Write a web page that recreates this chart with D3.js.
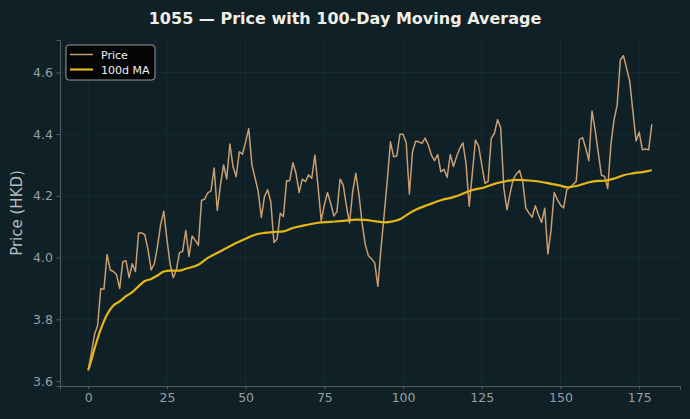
<!DOCTYPE html>
<html>
<head>
<meta charset="utf-8">
<script src="https://cdn.jsdelivr.net/npm/d3@7"></script>
<style>
  html, body { margin: 0; padding: 0; background: #0f2027; }
  #chart-container { width: 690px; height: 419px; }
  text { font-family: "DejaVu Sans", sans-serif; }
</style>
</head>
<body>
<div id="chart-container"></div>
<script>
// Price data, one value per day (index 0..179)
const prices = [
  3.635, 3.69, 3.75, 3.78, 3.90, 3.897, 4.01, 3.96, 3.955, 3.945,
  3.90, 3.987, 3.99, 3.935, 3.98, 3.955, 4.08, 4.08, 4.074, 4.026,
  3.96, 3.98, 4.035, 4.106, 4.15, 4.06, 3.98, 3.935, 3.96, 4.016,
  4.02, 4.088, 4.004, 4.07, 4.056, 4.04, 4.185, 4.19, 4.21, 4.216,
  4.29, 4.153, 4.235, 4.30, 4.255, 4.368, 4.295, 4.262, 4.343, 4.335,
  4.375, 4.418, 4.30, 4.258, 4.214, 4.13, 4.198, 4.22, 4.18, 4.049,
  4.06, 4.144, 4.133, 4.249, 4.249, 4.307, 4.273, 4.211, 4.254, 4.246,
  4.268, 4.257, 4.332, 4.230, 4.120, 4.171, 4.211, 4.176, 4.135, 4.149,
  4.254, 4.235, 4.168, 4.112, 4.214, 4.273, 4.203, 4.112, 4.042, 4.006,
  3.996, 3.983, 3.907, 4.031, 4.139, 4.252, 4.375, 4.327, 4.329, 4.40,
  4.40, 4.372, 4.206, 4.343, 4.377, 4.375, 4.37, 4.387, 4.365, 4.332,
  4.314, 4.334, 4.278, 4.286, 4.260, 4.334, 4.295, 4.327, 4.354, 4.372,
  4.305, 4.166, 4.273, 4.381, 4.361, 4.30, 4.241, 4.246, 4.386, 4.402,
  4.447, 4.421, 4.225, 4.155, 4.209, 4.254, 4.271, 4.282, 4.246, 4.160,
  4.144, 4.131, 4.168, 4.139, 4.114, 4.160, 4.012, 4.090, 4.211, 4.188,
  4.170, 4.161, 4.220, 4.228, 4.237, 4.247, 4.382, 4.389, 4.355, 4.314,
  4.475, 4.414, 4.339, 4.267, 4.263, 4.224, 4.366, 4.446, 4.495, 4.640,
  4.654, 4.613, 4.570, 4.473, 4.378, 4.406, 4.349, 4.352, 4.349, 4.432
];

// 100-day moving average at these days
const maDays = [0, 1, 2, 3, 4, 6, 8, 10, 12, 14, 16, 18, 20, 22, 24, 26, 29, 31, 35, 38,
  40, 43, 47, 50, 53, 56, 59, 62, 65, 69, 73, 77, 81, 85, 88, 91, 94, 97, 99, 101,
  104, 108, 112, 116, 118, 122, 126, 129, 132, 136, 141, 144, 147, 150, 152, 155, 158, 161, 164, 167,
  170, 173, 176, 179];
const maValues = [3.635, 3.668, 3.705, 3.738, 3.768, 3.816, 3.845, 3.858, 3.875, 3.888, 3.907, 3.924, 3.931, 3.942, 3.955, 3.958, 3.958, 3.964, 3.977, 3.999,
  4.010, 4.026, 4.047, 4.061, 4.074, 4.080, 4.083, 4.085, 4.096, 4.105, 4.113, 4.116, 4.119, 4.123, 4.122, 4.118, 4.114, 4.118, 4.124, 4.137,
  4.155, 4.171, 4.186, 4.196, 4.203, 4.219, 4.228, 4.239, 4.246, 4.252, 4.249, 4.245, 4.239, 4.233, 4.228, 4.232, 4.241, 4.248, 4.249, 4.256,
  4.267, 4.273, 4.277, 4.283];

const xTicks = [0, 25, 50, 75, 100, 125, 150, 175];
const yTicks = [3.6, 3.8, 4.0, 4.2, 4.4, 4.6];

const titleText = "1055 \u2014 Price with 100-Day Moving Average";
const yLabel = "Price (HKD)";

function drawChart() {
  d3.select("#chart-container").selectAll("*").remove();

  const W = 690, H = 419;
  const margin = { top: 40, right: 10, bottom: 33, left: 60 };
  const width = W - margin.left - margin.right;
  const height = H - margin.top - margin.bottom;

  const priceData = prices.map((p, i) => ({ day: i, value: p }));
  const maData = maDays.map((d, i) => ({ day: d, value: maValues[i] }));

  // matplotlib-style 5% padding around the data
  const xExt = d3.extent(priceData, d => d.day);
  const xPad = (xExt[1] - xExt[0]) * 0.05;
  const yExt = d3.extent(priceData, d => d.value);
  const yPad = (yExt[1] - yExt[0]) * 0.05;

  const x = d3.scaleLinear()
    .domain([xExt[0] - xPad, xExt[1] + xPad])
    .range([0, width]);

  const y = d3.scaleLinear()
    .domain([yExt[0] - yPad, yExt[1] + yPad])
    .range([height, 0]);

  const svgRoot = d3.select("#chart-container")
    .append("svg")
    .attr("width", W)
    .attr("height", H);

  svgRoot.append("rect")
    .attr("width", W)
    .attr("height", H)
    .attr("fill", "#0f2027");

  // Title
  svgRoot.append("text")
    .attr("x", W / 2)
    .attr("y", 24)
    .attr("text-anchor", "middle")
    .attr("fill", "#f2eee6")
    .style("font-size", "16px")
    .style("font-weight", "bold")
    .text(titleText);

  const svg = svgRoot.append("g")
    .attr("transform", `translate(${margin.left},${margin.top})`);

  // Grid lines
  svg.selectAll(".xgrid")
    .data(xTicks)
    .join("line")
    .attr("x1", d => x(d))
    .attr("x2", d => x(d))
    .attr("y1", 0)
    .attr("y2", height)
    .attr("stroke", "#1b2d34")
    .attr("stroke-width", 0.8);

  svg.selectAll(".ygrid")
    .data(yTicks)
    .join("line")
    .attr("x1", 0)
    .attr("x2", width)
    .attr("y1", d => y(d))
    .attr("y2", d => y(d))
    .attr("stroke", "#1b2d34")
    .attr("stroke-width", 0.8);

  // Axes
  const xAxis = svg.append("g")
    .attr("transform", `translate(0,${height})`)
    .call(d3.axisBottom(x)
      .tickValues(xTicks)
      .tickFormat(d3.format("d"))
      .tickSize(3.5)
      .tickPadding(3.5));

  const yAxis = svg.append("g")
    .call(d3.axisLeft(y)
      .tickValues(yTicks)
      .tickFormat(d3.format(".1f"))
      .tickSize(3.5)
      .tickPadding(3.5));

  [xAxis, yAxis].forEach(g => {
    g.select(".domain")
      .attr("stroke", "#4f5d63")
      .attr("stroke-width", 1);
    g.selectAll(".tick line")
      .attr("stroke", "#4f5d63");
    g.selectAll(".tick text")
      .attr("fill", "#979fa3")
      .style("font-size", "12.5px")
      .style("font-family", "DejaVu Sans, sans-serif");
  });

  // Y label
  svgRoot.append("text")
    .attr("transform", `translate(22,${margin.top + height / 2}) rotate(-90)`)
    .attr("text-anchor", "middle")
    .attr("fill", "#b4bcc0")
    .style("font-size", "15px")
    .text(yLabel);

  // Lines
  const priceLine = d3.line()
    .x(d => x(d.day))
    .y(d => y(d.value));

  const maLine = d3.line()
    .curve(d3.curveMonotoneX)
    .x(d => x(d.day))
    .y(d => y(d.value));

  svg.append("path")
    .datum(priceData)
    .attr("fill", "none")
    .attr("stroke", "#c99e70")
    .attr("stroke-width", 1.5)
    .attr("stroke-linejoin", "round")
    .attr("d", priceLine);

  svg.append("path")
    .datum(maData)
    .attr("fill", "none")
    .attr("stroke", "#e5b817")
    .attr("stroke-width", 2.2)
    .attr("stroke-linejoin", "round")
    .attr("d", maLine);

  // Legend
  const legend = svg.append("g")
    .attr("transform", "translate(6,5)");

  legend.append("rect")
    .attr("width", 89)
    .attr("height", 35)
    .attr("rx", 3)
    .attr("fill", "#000000")
    .attr("fill-opacity", 0.85)
    .attr("stroke", "#bfbfbf")
    .attr("stroke-width", 0.8);

  const items = [
    { label: "Price", color: "#c99e70", w: 1.5 },
    { label: "100d MA", color: "#e5b817", w: 2.2 }
  ];

  items.forEach((it, i) => {
    const yy = 9.5 + i * 15;
    legend.append("line")
      .attr("x1", 4)
      .attr("x2", 27)
      .attr("y1", yy)
      .attr("y2", yy)
      .attr("stroke", it.color)
      .attr("stroke-width", it.w);
    legend.append("text")
      .attr("x", 35)
      .attr("y", yy + 4)
      .attr("fill", "#f0f0f0")
      .style("font-size", "11px")
      .text(it.label);
  });
}

drawChart();
</script>
</body>
</html>
